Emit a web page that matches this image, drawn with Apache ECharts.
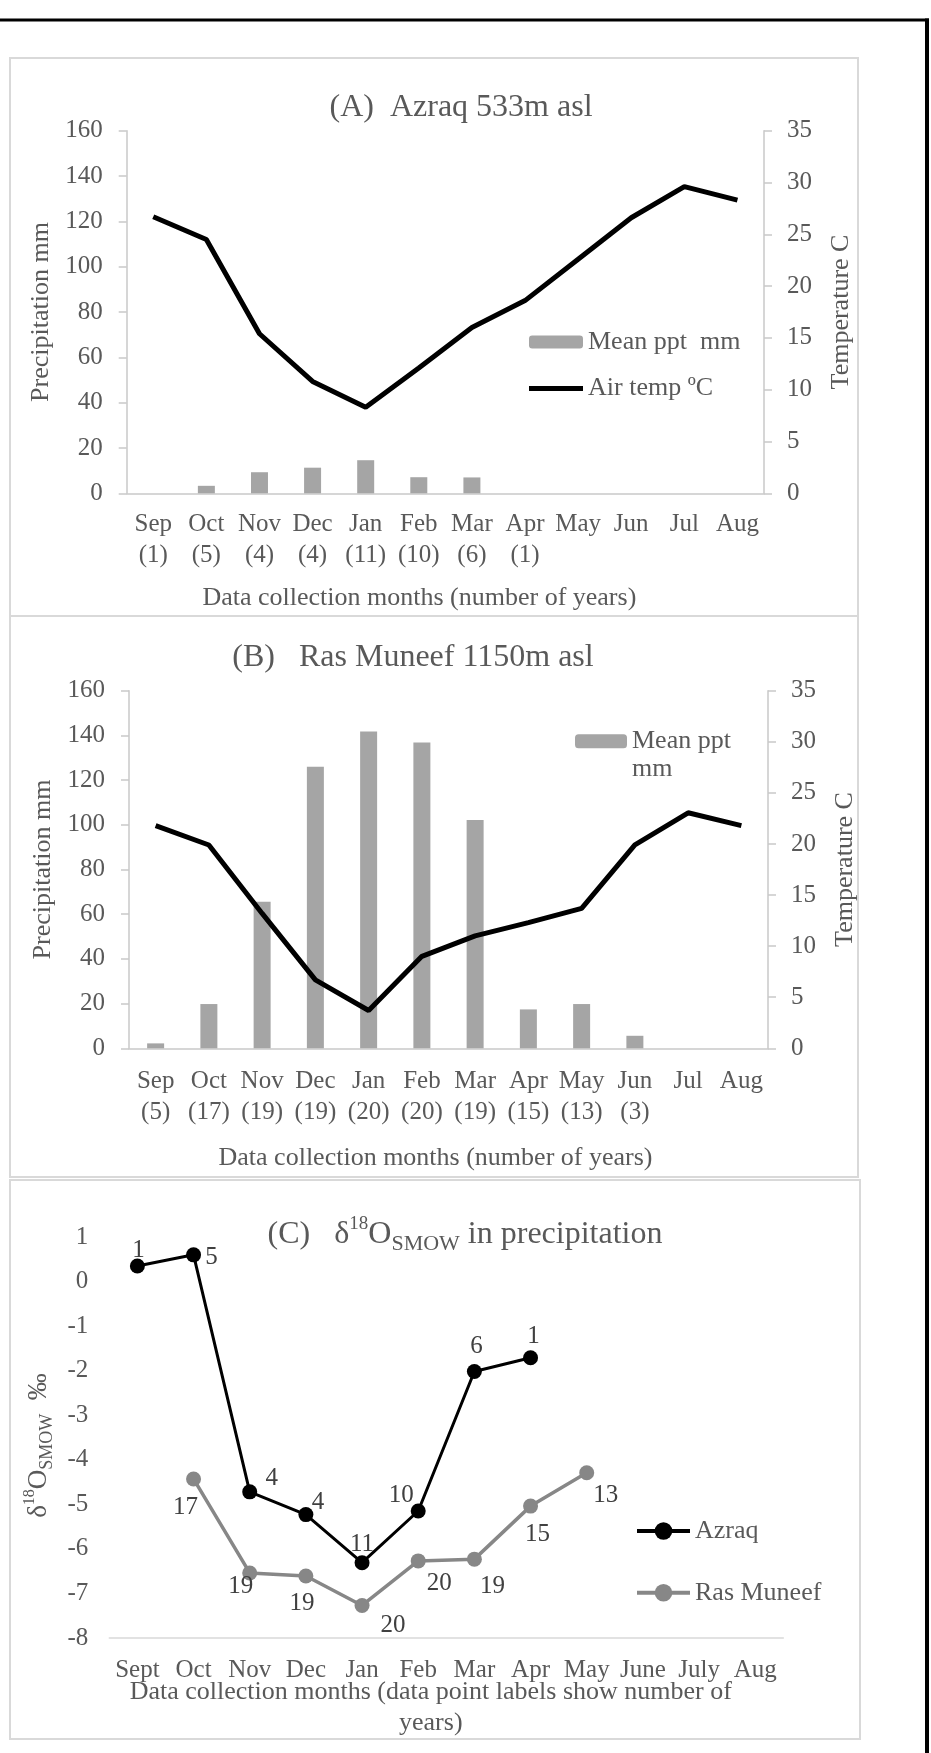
<!DOCTYPE html>
<html>
<head>
<meta charset="utf-8">
<script src="https://cdn.jsdelivr.net/npm/echarts@6/dist/echarts.min.js"></script>
<style>
  html, body { margin: 0; padding: 0; background: #fff; }
  #chart { width: 931px; height: 1753px; }
</style>
</head>
<body>
<div id="chart"></div>
<script>
// month categories
const months = ['Sep', 'Oct', 'Nov', 'Dec', 'Jan', 'Feb', 'Mar', 'Apr', 'May', 'Jun', 'Jul', 'Aug'];
const monthsC = ['Sept', 'Oct', 'Nov', 'Dec', 'Jan', 'Feb', 'Mar', 'Apr', 'May', 'June', 'July', 'Aug'];

// (A) Azraq
const yearsA = [1, 5, 4, 4, 11, 10, 6, 1, null, null, null, null];
const pptA = [0, 3.3, 9.3, 11.3, 14.6, 7.1, 7.0, 0, 0, 0, 0, 0];
const tempA = [26.7, 24.5, 15.4, 10.8, 8.3, 12.1, 16.0, 18.6, 22.6, 26.6, 29.6, 28.3];

// (B) Ras Muneef
const yearsB = [5, 17, 19, 19, 20, 20, 19, 15, 13, 3, null, null];
const pptB = [2.2, 19.8, 65.6, 126, 141.7, 136.8, 102.1, 17.4, 19.8, 5.6, 0, 0];
const tempB = [21.8, 19.9, 13.2, 6.7, 3.7, 9.0, 11.0, 12.3, 13.7, 19.9, 23.05, 21.8];

// (C) d18O in precipitation, with number of years per point
const d18oAzraq = [0.35, 0.6, -4.72, -5.23, -6.31, -5.15, -2.02, -1.71, null, null, null, null];
const nAzraq = [1, 5, 4, 4, 11, 10, 6, 1, null, null, null, null];
const d18oRas = [null, -4.43, -6.54, -6.61, -7.27, -6.27, -6.23, -5.04, -4.29, null, null, null];
const nRas = [null, 17, 19, 19, 20, 20, 19, 15, 13, null, null, null];

// where each point label sits relative to its marker
const azraqLabelOffset = [[1, -16], [18, 3], [22, -13], [12, -12], [0, -18], [-17, -16], [2, -25], [3, -21]];
const rasLabelOffset = [null, [-8, 29], [-9, 13], [-4, 27], [31, 20], [21, 23], [18, 27], [7, 28], [19, 23]];

const FONT = "'Liberation Serif', 'Times New Roman', serif";
const GREY_TXT = '#595959';
const AXIS_GREY = '#C9C9C9';
const BAR_GREY = '#A5A5A5';

const chart = echarts.init(document.getElementById('chart'));

const txt = (size, extra) => Object.assign({ color: GREY_TXT, fontFamily: FONT, fontSize: size }, extra || {});

const monthAxis = (gridIndex, years, opts) => ({
  gridIndex,
  type: 'category',
  data: months,
  axisTick: { show: false },
  axisLine: { lineStyle: { color: AXIS_GREY, width: 1.5 } },
  axisLabel: Object.assign(txt(25, { lineHeight: 31, margin: opts.margin, interval: 0 }), {
    formatter: (v, i) => (years[i] != null ? v + '\n(' + years[i] + ')' : v),
  }),
  name: 'Data collection months (number of years)',
  nameLocation: 'middle',
  nameGap: opts.nameGap,
  nameTextStyle: txt(26, { padding: opts.namePad }),
});

const pptAxis = (gridIndex) => ({
  gridIndex,
  type: 'value',
  min: 0, max: 160, interval: 20,
  axisLine: { show: true, lineStyle: { color: AXIS_GREY, width: 1.5 } },
  axisTick: { show: true, length: 8, lineStyle: { color: AXIS_GREY, width: 1.5 } },
  splitLine: { show: false },
  axisLabel: txt(25, { margin: 24 }),
  name: 'Precipitation mm',
  nameLocation: 'middle',
  nameRotate: 90,
  nameGap: 72,
  nameTextStyle: txt(26),
});

const tempAxis = (gridIndex) => ({
  gridIndex,
  type: 'value',
  position: 'right',
  min: 0, max: 35, interval: 5,
  axisLine: { show: true, lineStyle: { color: AXIS_GREY, width: 1.5 } },
  axisTick: { show: true, length: 8, lineStyle: { color: AXIS_GREY, width: 1.5 } },
  splitLine: { show: false },
  axisLabel: txt(25, { margin: 23 }),
  name: 'Temperature C',
  nameLocation: 'middle',
  nameRotate: 90,
  nameGap: 64,
  nameTextStyle: txt(26),
});

const azraqData = d18oAzraq.map((v, i) => ({ value: v, label: { offset: azraqLabelOffset[i] || [0, 0] } }));
const rasData = d18oRas.map((v, i) => ({ value: v, label: { offset: rasLabelOffset[i] || [0, 0] } }));

const richDelta = (big, sup, sub) => ({
  n: { fontSize: big, fontFamily: FONT, color: GREY_TXT, lineHeight: big + 8 },
  sup: { fontSize: sup, fontFamily: FONT, color: GREY_TXT, lineHeight: sup, verticalAlign: 'top' },
  sub: { fontSize: sub, fontFamily: FONT, color: GREY_TXT, lineHeight: sub, verticalAlign: 'bottom' },
});

// thick flat bar used as the legend mark of the temperature lines
const LINE_ICON = 'path://M0,0H54V5H0Z';

const option = {
  backgroundColor: '#fff',
  animation: false,
  title: [
    { text: '(A)  Azraq 533m asl', left: 461, top: 90, textAlign: 'center', padding: 0,
      textStyle: txt(32, { fontWeight: 'normal', lineHeight: 36 }) },
    { text: '(B)   Ras Muneef 1150m asl', left: 413, top: 640, textAlign: 'center', padding: 0,
      textStyle: txt(32, { fontWeight: 'normal', lineHeight: 36 }) },
    { text: '{n|(C)   δ}{sup|18}{n|O}{sub|SMOW}{n| in precipitation}', left: 465, top: 1215, textAlign: 'center', padding: 0,
      textStyle: Object.assign(txt(32, { fontWeight: 'normal' }), { rich: richDelta(32, 19, 22) }) },
  ],
  legend: [
    {
      data: ['Mean ppt  mm', { name: 'Air temp ºC', icon: LINE_ICON, itemStyle: { color: '#000' } }],
      orient: 'vertical', left: 529, top: 328, padding: 0,
      itemWidth: 54, itemHeight: 13, itemGap: 18.6, symbolKeepAspect: true,
      textStyle: txt(26, { lineHeight: 28 }),
    },
    {
      data: ['Mean ppt mm'],
      orient: 'vertical', left: 575, top: 700, padding: 0,
      itemWidth: 52, itemHeight: 14,
      formatter: () => '\nMean ppt\nmm',
      textStyle: txt(26, { lineHeight: 27.5 }),
    },
    {
      data: ['Azraq', 'Ras Muneef'],
      orient: 'vertical', left: 635, top: 1517, padding: 0,
      itemWidth: 53, itemHeight: 22, itemGap: 33.7,
      lineStyle: { width: 4 },
      textStyle: txt(26, { lineHeight: 28 }),
    },
  ],
  grid: [
    { left: 126.7, top: 130.7, width: 637.3, height: 362.6 },
    { left: 129, top: 690.7, width: 639, height: 357.6 },
    { left: 109.3, top: 1237, width: 674, height: 401 },
  ],
  xAxis: [
    monthAxis(0, yearsA, { margin: 16, nameGap: 92, namePad: [0, 52, 0, 0] }),
    monthAxis(1, yearsB, { margin: 18, nameGap: 97, namePad: [0, 26, 0, 0] }),
    {
      gridIndex: 2,
      type: 'category',
      data: monthsC,
      axisTick: { show: false },
      axisLine: { onZero: false, lineStyle: { color: '#D9D9D9', width: 1.5 } },
      axisLabel: txt(25, { margin: 20, interval: 0 }),
      name: 'Data collection months (data point labels show number of\nyears)',
      nameLocation: 'middle',
      nameGap: 38,
      nameMoveOverlap: false,
      nameTextStyle: txt(26, { lineHeight: 31.6, padding: [0, 31, 0, 0] }),
    },
  ],
  yAxis: [
    pptAxis(0),
    tempAxis(0),
    pptAxis(1),
    tempAxis(1),
    {
      gridIndex: 2,
      type: 'value',
      min: -8, max: 1, interval: 1,
      axisLine: { show: false },
      axisTick: { show: false },
      splitLine: { show: false },
      axisLabel: txt(25, { margin: 21 }),
      name: '{n|δ}{sup|18}{n|O}{sub|SMOW}{n|  ‰}',
      nameLocation: 'middle',
      nameRotate: 90,
      nameGap: 40,
      nameTextStyle: { rich: richDelta(27, 16, 18), padding: [0, 16, 0, 0] },
    },
  ],
  series: [
    { name: 'Mean ppt  mm', type: 'bar', xAxisIndex: 0, yAxisIndex: 0, data: pptA,
      barWidth: 17, itemStyle: { color: BAR_GREY } },
    { name: 'Air temp ºC', type: 'line', xAxisIndex: 0, yAxisIndex: 1, data: tempA,
      symbol: 'none', lineStyle: { color: '#000', width: 5 }, itemStyle: { color: '#000' } },
    { name: 'Mean ppt mm', type: 'bar', xAxisIndex: 1, yAxisIndex: 2, data: pptB,
      barWidth: 17, itemStyle: { color: BAR_GREY } },
    { name: 'Air temp', type: 'line', xAxisIndex: 1, yAxisIndex: 3, data: tempB,
      symbol: 'none', lineStyle: { color: '#000', width: 5 }, itemStyle: { color: '#000' } },
    { name: 'Azraq', type: 'line', xAxisIndex: 2, yAxisIndex: 4, data: azraqData,
      symbol: 'circle', symbolSize: 15, connectNulls: false,
      lineStyle: { color: '#000', width: 3 }, itemStyle: { color: '#000' },
      label: { show: true, position: 'inside', formatter: (p) => nAzraq[p.dataIndex] ?? '',
        color: '#404040', fontFamily: FONT, fontSize: 25 } },
    { name: 'Ras Muneef', type: 'line', xAxisIndex: 2, yAxisIndex: 4, data: rasData,
      symbol: 'circle', symbolSize: 15, connectNulls: false,
      lineStyle: { color: '#878787', width: 3.5 }, itemStyle: { color: '#878787' },
      label: { show: true, position: 'inside', formatter: (p) => nRas[p.dataIndex] ?? '',
        color: '#404040', fontFamily: FONT, fontSize: 25 } },
  ],
  graphic: [
    { type: 'rect', silent: true, z: -1, shape: { x: 10, y: 58, width: 848, height: 558 },
      style: { fill: 'none', stroke: '#D9D9D9', lineWidth: 2 } },
    { type: 'rect', silent: true, z: -1, shape: { x: 10, y: 616, width: 848, height: 561 },
      style: { fill: 'none', stroke: '#D9D9D9', lineWidth: 2 } },
    { type: 'rect', silent: true, z: -1, shape: { x: 10, y: 1180, width: 850, height: 559 },
      style: { fill: 'none', stroke: '#D9D9D9', lineWidth: 2 } },
    { type: 'line', silent: true, shape: { x1: 0, y1: 20, x2: 929, y2: 20 },
      style: { stroke: '#000', lineWidth: 3 } },
    { type: 'line', silent: true, shape: { x1: 927, y1: 18.5, x2: 927, y2: 1753 },
      style: { stroke: '#000', lineWidth: 4 } },
  ],
};

chart.setOption(option);
</script>
</body>
</html>
